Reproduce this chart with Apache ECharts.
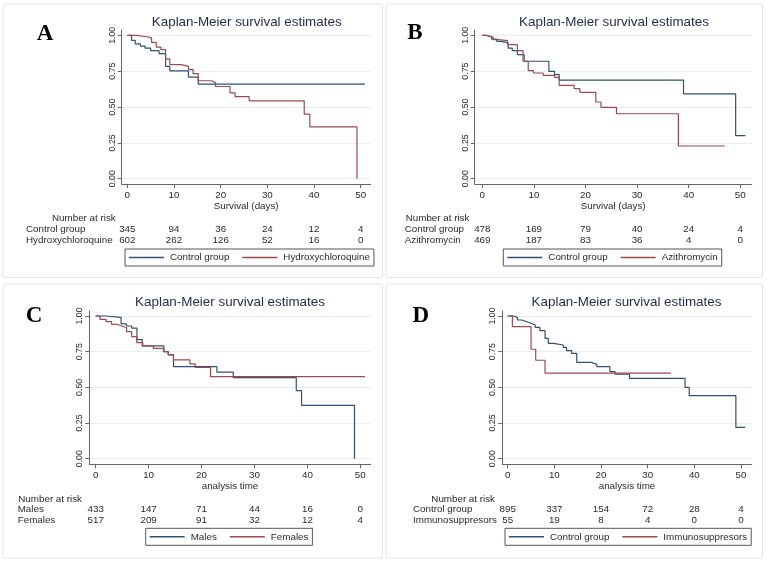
<!DOCTYPE html>
<html><head><meta charset="utf-8">
<script src="https://cdn.jsdelivr.net/npm/echarts@6/dist/echarts.min.js"></script>
<style>html,body{margin:0;padding:0;background:#fff}#c{width:767px;height:564px}</style>
</head><body><div id="c"></div>
<script>
// ---------- tick labels ----------
const xTicks = [0, 10, 20, 30, 40, 50];
const yTicks = [0, 0.25, 0.5, 0.75, 1];
const yTickLabels = ['0.00', '0.25', '0.50', '0.75', '1.00'];
const riskTimes = [0, 10, 20, 30, 40, 50];

// ---------- Panel A ----------
const aCtrlT = [0, 0.9, 1.7, 2.8, 3.8, 5.0, 6.8, 8.2, 9.1, 13.1, 15.2, 50.9];
const aCtrlS = [1, 0.965, 0.94, 0.925, 0.91, 0.893, 0.872, 0.783, 0.752, 0.709, 0.66, 0.66];
const aHcqT = [0, 2.0, 4.2, 5.2, 6.2, 7.2, 8.2, 9.1, 11.6, 13.1, 14.1, 15.2, 18.0, 18.9, 22.0, 23.1, 26.1, 37.9, 39.1, 49.2];
const aHcqS = [1, 0.99, 0.982, 0.951, 0.918, 0.9, 0.836, 0.795, 0.783, 0.76, 0.733, 0.683, 0.67, 0.643, 0.598, 0.572, 0.543, 0.45, 0.362, 0];
const aCtrlRisk = [345, 94, 36, 24, 12, 4];
const aHcqRisk = [602, 262, 126, 52, 16, 0];

// ---------- Panel B ----------
const bCtrlT = [0, 0.8, 1.8, 2.8, 3.7, 5.0, 5.8, 6.8, 8.1, 12.9, 14.0, 14.9, 39.0, 49.1, 51.0];
const bCtrlS = [1, 0.988, 0.974, 0.958, 0.947, 0.91, 0.893, 0.865, 0.819, 0.749, 0.726, 0.688, 0.591, 0.3, 0.3];
const bAziT = [0, 0.8, 2.1, 3.1, 4.9, 6.8, 7.9, 8.9, 9.9, 11.8, 14.0, 14.9, 17.8, 18.9, 22.0, 23.0, 26.0, 38.0, 47.0];
const bAziS = [1, 0.988, 0.97, 0.963, 0.935, 0.893, 0.819, 0.753, 0.737, 0.721, 0.707, 0.651, 0.628, 0.602, 0.535, 0.498, 0.453, 0.228, 0.228];
const bCtrlRisk = [478, 169, 79, 40, 24, 4];
const bAziRisk = [469, 187, 83, 36, 4, 0];

// ---------- Panel C ----------
const cMaleT = [0, 1.8, 4.8, 5.8, 6.8, 7.8, 8.8, 12.9, 13.7, 14.7, 22.9, 26.0, 37.9, 38.9, 48.9];
const cMaleS = [1, 0.99, 0.945, 0.93, 0.915, 0.835, 0.79, 0.75, 0.73, 0.645, 0.607, 0.568, 0.477, 0.374, 0];
const cFemT = [0, 0.8, 1.95, 3.0, 4.0, 4.9, 5.85, 6.8, 7.75, 8.9, 10.9, 12.8, 13.7, 14.7, 17.8, 18.8, 21.7, 50.9];
const cFemS = [1, 0.977, 0.96, 0.942, 0.93, 0.918, 0.89, 0.855, 0.813, 0.79, 0.773, 0.75, 0.727, 0.692, 0.664, 0.64, 0.575, 0.575];
const cMaleRisk = [433, 147, 71, 44, 16, 0];
const cFemRisk = [517, 209, 91, 32, 12, 4];

// ---------- Panel D ----------
const dCtrlT = [0, 1.2, 2.1, 3.0, 4.1, 5.0, 5.9, 6.9, 8.0, 8.7, 9.8, 11.9, 12.6, 13.7, 14.8, 18.0, 19.1, 21.9, 23.0, 26.1, 38.0, 38.9, 48.9, 50.9];
const dCtrlS = [1, 0.99, 0.972, 0.96, 0.949, 0.937, 0.92, 0.897, 0.843, 0.808, 0.797, 0.78, 0.757, 0.738, 0.675, 0.661, 0.645, 0.61, 0.593, 0.563, 0.5, 0.442, 0.22, 0.22];
const dImmT = [0, 1.0, 5.0, 6.0, 8.0, 35.0];
const dImmS = [1, 0.925, 0.767, 0.69, 0.6, 0.6];
const dCtrlRisk = [895, 337, 154, 72, 28, 4];
const dImmRisk = [55, 19, 8, 4, 0, 0];

// ---------- styling / layout ----------
const FONT = '"Liberation Sans", Arial, Helvetica, sans-serif';
const BLUE = '#2e5272', RED = '#9c4a52';
const TXT = '#2a2a2a', AX = '#666';
const SMALL = 9.8;

const panels = [
  { letter: 'A', xName: 'Survival (days)', names: ['Control group', 'Hydroxychloroquine'],
    curves: [[aCtrlT, aCtrlS], [aHcqT, aHcqS]], risk: [aCtrlRisk, aHcqRisk],
    L: { left: 121.7, right: 370.7, top: 30, bottom: 184, x0: 127.3, x50: 360.7, y0: 178.7, y1: 35.3,
         titleX: 246.7, titleY: 22, letX: 45, letY: 34.5,
         head: { x: 115.7, y: 218, align: 'right' }, rowX: 26, rowY: [229, 240],
         legL: 125, legT: 249, box: [3, 4, 379.5, 273.5] } },
  { letter: 'B', xName: 'Survival (days)', names: ['Control group', 'Azithromycin'],
    curves: [[bCtrlT, bCtrlS], [bAziT, bAziS]], risk: [bCtrlRisk, bAziRisk],
    L: { left: 474.7, right: 751.7, top: 30, bottom: 184, x0: 482.3, x50: 740.3, y0: 178.7, y1: 35.3,
         titleX: 614, titleY: 22, letX: 415, letY: 33.5,
         head: { x: 405.7, y: 218, align: 'left' }, rowX: 404.7, rowY: [229, 240],
         legL: 503.3, legT: 249, box: [386, 4, 376.5, 273.5] } },
  { letter: 'C', xName: 'analysis time', names: ['Males', 'Females'],
    curves: [[cMaleT, cMaleS], [cFemT, cFemS]], risk: [cMaleRisk, cFemRisk],
    L: { left: 89.3, right: 370.7, top: 311, bottom: 464.3, x0: 95.7, x50: 360.3, y0: 458.7, y1: 316,
         titleX: 230, titleY: 302.7, letX: 34, letY: 315.7,
         head: { x: 18.3, y: 499, align: 'left' }, rowX: 17.7, rowY: [509.3, 520],
         legL: 145.7, legT: 528.3, box: [3, 284, 379.5, 274] } },
  { letter: 'D', xName: 'analysis time', names: ['Control group', 'Immunosuppresors'],
    curves: [[dCtrlT, dCtrlS], [dImmT, dImmS]], risk: [dCtrlRisk, dImmRisk],
    L: { left: 502.3, right: 751.7, top: 311, bottom: 464.3, x0: 507.7, x50: 741, y0: 458.7, y1: 316,
         titleX: 626.5, titleY: 302.7, letX: 420.7, letY: 316,
         head: { x: 495, y: 499, align: 'right' }, rowX: 413, rowY: [509.3, 520],
         legL: 505, legT: 528.3, box: [386, 284, 376.5, 274] } }
];

const chart = echarts.init(document.getElementById('c'), null, { renderer: 'canvas' });

const grid = [], xAxis = [], yAxis = [], series = [], legend = [];
panels.forEach((p, i) => {
  const L = p.L;
  grid.push({ left: L.left, top: L.top, width: L.right - L.left, height: L.bottom - L.top, containLabel: false });
  const xs = 50 / (L.x50 - L.x0);
  const ys = 1 / (L.y0 - L.y1);
  xAxis.push({
    type: 'value', gridIndex: i,
    min: (L.left - L.x0) * xs, max: (L.right - L.x0) * xs,
    name: p.xName, nameLocation: 'middle', nameGap: 16,
    nameTextStyle: { fontFamily: FONT, fontSize: SMALL, color: TXT },
    axisLine: { show: true, onZero: false, lineStyle: { color: AX, width: 1 } },
    axisTick: { show: true, length: 4, customValues: xTicks, lineStyle: { color: AX } },
    axisLabel: { customValues: xTicks, fontFamily: FONT, fontSize: SMALL, color: TXT, margin: 6 },
    splitLine: { show: false }
  });
  yAxis.push({
    type: 'value', gridIndex: i,
    min: (L.y0 - L.bottom) * ys, max: (L.y0 - L.top) * ys,
    axisLine: { show: true, onZero: false, lineStyle: { color: AX, width: 1 } },
    axisTick: { show: true, length: 4, customValues: yTicks, lineStyle: { color: AX } },
    axisLabel: {
      customValues: yTicks, rotate: 90, fontFamily: FONT, fontSize: 8.8, color: TXT, margin: 5,
      formatter: v => { let k = 0; yTicks.forEach((t, j) => { if (Math.abs(t - v) < Math.abs(yTicks[k] - v)) k = j; }); return yTickLabels[k]; }
    },
    splitLine: { show: true, lineStyle: { color: '#e9eded', width: 1 } }
  });
  p.curves.forEach((c, j) => {
    series.push({
      type: 'line', name: p.names[j], xAxisIndex: i, yAxisIndex: i,
      step: 'end', symbol: 'none', showSymbol: false, silent: true,
      lineStyle: { color: j ? RED : BLUE, width: 1.2 },
      itemStyle: { color: j ? RED : BLUE },
      data: c[0].map((t, k) => [t, c[1][k]])
    });
  });
  legend.push({
    data: p.names.map((n, j) => ({ name: n, icon: 'rect', itemStyle: { color: j ? RED : BLUE, borderWidth: 0 } })),
    left: L.legL, top: L.legT, orient: 'horizontal',
    itemWidth: 35, itemHeight: 1.4, itemGap: 13,
    padding: [3, 4, 3, 4], borderColor: '#555', borderWidth: 1, borderRadius: 0,
    selectedMode: false,
    textStyle: { fontFamily: FONT, fontSize: SMALL, color: TXT, lineHeight: 11, padding: [0, 0, 0, 1] }
  });
});

chart.setOption({
  animation: false, backgroundColor: '#fff',
  grid, xAxis, yAxis, series, legend
});

// ---------- text elements (titles, letters, number-at-risk table, frames) ----------
const g = [];
function txt(text, x, y, opts) {
  g.push({ type: 'text', silent: true, z: 10,
    style: Object.assign({ text, x, y, fill: TXT, font: SMALL + 'px ' + FONT,
      textAlign: 'center', textVerticalAlign: 'middle', align: 'center', verticalAlign: 'middle' }, opts || {}) });
}
panels.forEach((p, i) => {
  const L = p.L;
  g.push({ type: 'rect', silent: true, z: 0,
    shape: { x: L.box[0], y: L.box[1], width: L.box[2], height: L.box[3], r: 2 },
    style: { fill: 'none', stroke: '#e2e4e4', lineWidth: 1 } });
  txt('Kaplan-Meier survival estimates', L.titleX, L.titleY, { font: '13.4px ' + FONT, fill: '#1f2b4a' });
  txt(p.letter, L.letX, L.letY, { font: 'bold 23px "Liberation Serif", "Times New Roman", serif', fill: '#000' });
  txt('Number at risk', L.head.x, L.head.y, { textAlign: L.head.align, align: L.head.align });
  p.names.forEach((n, j) => {
    txt(n, L.rowX, L.rowY[j], { textAlign: 'left', align: 'left' });
    p.risk[j].forEach((v, k) => {
      const px = chart.convertToPixel({ xAxisIndex: i }, riskTimes[k]);
      txt(String(v), px, L.rowY[j]);
    });
  });
});
chart.setOption({ graphic: { elements: g } });
</script>
</body></html>
